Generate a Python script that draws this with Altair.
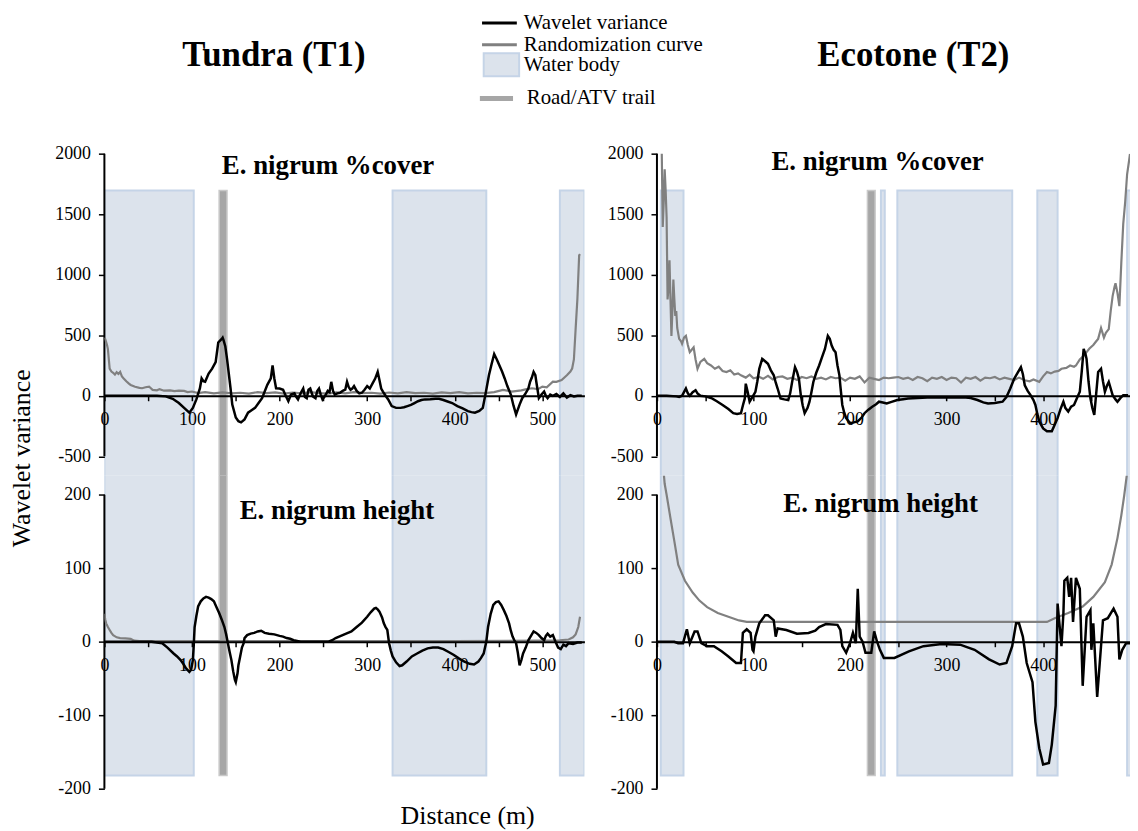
import altair as alt
import pandas as pd

FONT = "Liberation Serif"

# ---------------- data ----------------
# Tundra (T1) - E. nigrum %cover
T1C_WAV_X = [0, 20, 40, 60, 70, 78, 85, 91, 97, 101, 105, 109, 111, 113, 115, 119, 123, 127, 130, 132, 134, 135, 136, 138, 140, 144, 146, 150, 153, 156, 160, 164, 168, 172, 176, 180, 186, 190, 192, 194, 196, 200, 204, 207, 210, 213, 217, 219, 221, 224, 227, 229, 231, 233, 235, 238, 241, 243, 245, 247, 249, 252, 255, 257, 259, 261, 263, 266, 269, 272, 275, 277, 279, 281, 283, 285, 288, 291, 294, 297, 300, 303, 306, 309, 312, 314, 316, 318, 321, 324, 328, 333, 338, 342, 346, 350, 354, 358, 362, 366, 372, 378, 382, 387, 391, 397, 403, 409, 415, 419, 423, 428, 432, 435, 439, 442, 445, 448, 451, 454, 457, 460, 464, 467, 470, 474, 477, 480, 484, 486, 488, 490, 492, 493, 496, 499, 502, 504, 506, 509, 512, 516, 520, 524, 528, 532, 536, 540, 545]
T1C_WAV_Y = [0, 0, 0, 0, -5, -25, -60, -100, -140, -100, -30, 60, 143, 120, 116, 184, 224, 278, 440, 455, 470, 480, 460, 410, 305, 62, -73, -180, -210, -220, -195, -140, -120, -100, -60, -20, 90, 143, 250, 143, 62, 60, 50, 0, -45, 10, 20, -10, -30, 20, 60, -10, -20, 50, 60, -5, -20, 40, 60, 10, -30, 0, 40, 30, 115, 40, 10, 20, 25, 40, 50, 115, 70, 50, 60, 80, 40, 20, 25, 50, 80, 60, 100, 140, 197, 130, 60, 35, 0, -30, -85, -100, -100, -95, -85, -75, -60, -45, -35, -30, -28, -25, -25, -35, -45, -60, -85, -105, -127, -135, -140, -125, -100, 10, 170, 260, 345, 300, 250, 200, 143, 80, 10, -80, -154, -73, -20, 10, 60, 116, 150, 197, 170, 120, -20, 10, 35, 0, -20, 10, 0, 15, -10, 20, -15, 5, -5, 0, 0]
T1C_RND_X = [0, 1, 3, 4, 6, 8, 10, 12, 14, 16, 18, 20, 22, 25, 28, 30, 35, 40, 43, 47, 51, 55, 60, 63, 68, 75, 80, 85, 91, 95, 100, 107, 115, 125, 135, 145, 155, 165, 175, 185, 195, 205, 215, 225, 235, 245, 255, 265, 275, 285, 295, 305, 315, 325, 335, 345, 355, 365, 375, 385, 395, 405, 415, 425, 435, 445, 455, 465, 476, 482, 488, 495, 500, 505, 512, 516, 522, 528, 532, 534, 536, 538, 540, 542, 543]
T1C_RND_Y = [480, 468, 420, 386, 224, 200, 190, 175, 195, 180, 197, 160, 143, 120, 100, 89, 75, 65, 62, 70, 76, 49, 45, 55, 42, 45, 38, 42, 40, 30, 35, 22, 30, 20, 28, 20, 25, 18, 30, 22, 28, 18, 27, 20, 30, 22, 18, 28, 20, 30, 22, 25, 18, 27, 20, 30, 22, 25, 18, 28, 22, 30, 20, 25, 22, 30, 49, 35, 45, 55, 62, 55, 76, 70, 116, 115, 130, 170, 200, 225, 300, 555, 800, 1160, 1170]

# Tundra (T1) - E. nigrum height
T1H_WAV_X = [0, 20, 40, 54, 60, 66, 72, 79, 83, 87, 90, 93, 97, 99, 101, 102, 103, 105, 107, 110, 113, 116, 119, 122, 125, 128, 131, 134, 137, 139, 141, 143, 145, 147, 149, 150, 152, 153, 155, 157, 159, 160, 163, 167, 171, 175, 179, 183, 188, 194, 200, 204, 208, 212, 216, 220, 224, 240, 256, 260, 264, 270, 276, 282, 288, 294, 300, 304, 308, 310, 312, 314, 317, 319, 321, 323, 325, 327, 329, 333, 337, 340, 345, 351, 357, 363, 369, 375, 381, 387, 393, 399, 405, 411, 417, 422, 427, 430, 433, 436, 438, 441, 444, 447, 450, 453, 456, 459, 462, 464, 466, 468, 470, 472, 474, 476, 478, 481, 484, 487, 490, 493, 496, 499, 502, 504, 506, 509, 512, 515, 518, 521, 524, 527, 530, 535, 540, 545]
T1H_WAV_Y = [0, 0, 0, 0, -1, -2, -8, -16, -20, -25, -30, -36, -41, -38, -25, -5, 20, 35, 48, 55, 59, 61, 60, 58, 55, 47, 39, 30, 20, 10, -2, -14, -25, -40, -52, -55, -43, -32, -20, -8, -2, 5, 9, 11, 12, 14, 15, 12, 11, 10, 8, 7, 5, 4, 2, 1, 0, 0, 0, 2, 5, 8, 11, 14, 20, 26, 34, 40, 45, 46, 44, 41, 33, 25, 20, 16, -2, -12, -20, -28, -33, -32, -27, -20, -16, -12, -9, -8, -8, -10, -14, -18, -23, -27, -30, -31, -27, -22, -16, 0, 20, 38, 50, 54, 55, 50, 43, 35, 25, 15, 7, 2, -2, -15, -32, -25, -16, -8, 2, 8, 14, 12, 9, 5, 2, 8, 11, 7, 9, 0, -8, -10, -4, -6, -2, -3, -1, -1]
T1H_RND_X = [0, 1, 2, 4, 6, 8, 10, 14, 18, 24, 30, 34, 40, 60, 100, 200, 300, 400, 500, 520, 530, 535, 538, 541, 543]
T1H_RND_Y = [38, 30, 25, 20, 16, 12, 9, 6, 5, 4.5, 4, 1.5, 1, 1, 1, 1, 1, 1, 1.5, 2, 3, 6, 10, 20, 34]

# Ecotone (T2) - E. nigrum %cover
T2C_WAV_X = [0, 10, 20, 23, 26, 28, 30, 32, 34, 37, 40, 42, 45, 50, 57, 62, 68, 74, 79, 83, 87, 89, 91, 92, 94, 96, 99, 102, 104, 106, 109, 112, 115, 118, 121, 123, 125, 128, 132, 136, 138, 140, 143, 145, 147, 149, 151, 153, 156, 158, 160, 162, 165, 168, 171, 174, 177, 179, 181, 183, 185, 187, 189, 190, 192, 194, 196, 200, 204, 208, 212, 215, 219, 223, 227, 230, 234, 238, 243, 249, 255, 260, 270, 280, 290, 300, 310, 320, 325, 332, 338, 343, 350, 358, 362, 366, 370, 374, 377, 379, 381, 384, 387, 390, 392, 394, 396, 400, 404, 409, 412, 415, 418, 421, 423, 426, 429, 432, 435, 438, 440, 442, 444, 445, 447, 449, 451, 453, 455, 457, 460, 462, 464, 466, 468, 470, 472, 475, 477, 480, 483, 488]
T2C_WAV_Y = [0, 0, -5, -10, 0, 30, 60, 20, 0, 30, 46, 20, 0, -5, -22, -45, -76, -110, -144, -150, -144, -80, -22, 100, 30, -49, -10, 33, 120, 223, 305, 285, 264, 210, 169, 110, 60, -22, -30, -35, 20, 114, 237, 200, 142, 5, -80, -144, -100, -49, 30, 114, 190, 250, 320, 387, 495, 470, 414, 380, 360, 250, 169, 80, -76, -140, -185, -226, -220, -212, -180, -144, -115, -90, -70, -49, -55, -63, -50, -35, -28, -22, -18, -15, -15, -12, -14, -15, -18, -35, -55, -63, -60, -49, -10, 60, 140, 196, 237, 180, 87, 40, 5, -35, -76, -150, -212, -270, -294, -294, -240, -185, -110, -49, -100, -131, -90, -76, -20, 33, 200, 387, 340, 305, 120, -22, -100, -158, 20, 196, 223, 120, 33, 80, 114, 60, 5, -30, -49, -20, 5, 5]
T2C_RND_X = [0, 2, 4, 5, 6, 7, 8, 9, 10, 11, 12, 13, 14, 15, 16, 17, 18, 19, 20, 21, 23, 25, 26, 28, 30, 32, 34, 36, 38, 40, 42, 45, 49, 52, 56, 60, 64, 68, 72, 76, 80, 84, 87, 92, 96, 100, 106, 110, 115, 120, 125, 130, 135, 140, 145, 150, 155, 160, 165, 170, 175, 180, 185, 190, 195, 200, 205, 210, 215, 220, 225, 230, 235, 240, 245, 250, 255, 260, 265, 270, 275, 280, 285, 290, 295, 300, 305, 310, 315, 320, 325, 330, 335, 340, 345, 350, 355, 360, 365, 370, 375, 381, 386, 390, 396, 400, 404, 408, 412, 416, 419, 424, 428, 432, 434, 438, 442, 445, 448, 452, 455, 457, 460, 463, 465, 468, 470, 472, 474, 475, 477, 479, 481, 483, 485, 487, 489, 490]
T2C_RND_Y = [2100, 2100, 2050, 2000, 1395, 1600, 1870, 1700, 1475, 795, 900, 1120, 800, 495, 700, 960, 800, 660, 700, 560, 470, 450, 430, 480, 495, 420, 360, 380, 400, 300, 223, 280, 305, 270, 250, 223, 240, 205, 196, 210, 175, 185, 169, 150, 175, 145, 155, 140, 165, 135, 155, 160, 140, 150, 130, 155, 145, 160, 140, 150, 135, 155, 145, 150, 125, 150, 140, 160, 110, 150, 140, 130, 150, 145, 150, 155, 140, 150, 130, 155, 145, 120, 150, 140, 155, 130, 150, 145, 110, 150, 140, 155, 125, 150, 145, 155, 135, 150, 140, 130, 150, 128, 120, 135, 115, 160, 196, 185, 200, 205, 223, 230, 250, 240, 250, 300, 330, 360, 390, 420, 450, 470, 560, 480, 520, 550, 700, 823, 900, 930, 850, 740, 1100, 1420, 1600, 1830, 1940, 2000]

# Ecotone (T2) - E. nigrum height
T2H_WAV_X = [0, 10, 18, 22, 27, 31, 34, 39, 42, 46, 52, 59, 67, 74, 82, 87, 89, 93, 97, 99, 100, 102, 106, 112, 115, 121, 123, 125, 134, 145, 157, 164, 168, 175, 187, 190, 192, 196, 200, 203, 206, 208, 210, 213, 216, 222, 225, 228, 231, 235, 246, 261, 276, 295, 314, 329, 344, 355, 362, 368, 372, 375, 379, 383, 389, 392, 396, 400, 406, 409, 413, 415, 419, 421, 422, 425, 427, 429, 431, 434, 438, 441, 445, 449, 450, 452, 456, 462, 467, 473, 477, 479, 482, 486, 490]
T2H_WAV_Y = [0, 0, 0, -2, -2, 17, -2, 14, 14, -2, -6, -6, -13, -20, -29, -29, 12, 17, 12, -11, -13, 7, 25, 36, 36, 29, 7, 18, 16, 11, 12, 15, 20, 24, 23, 16, -6, -15, -2, 12, -2, 72, 7, 0, -15, -15, 14, 0, -11, -22, -22, -13, -6, -3, -4, -11, -24, -31, -29, -6, 25, 25, 7, -29, -55, -109, -145, -167, -165, -140, -87, 52, -6, 38, 83, 87, 61, 87, 27, 87, 72, -60, 34, 43, -11, 25, -75, 29, 32, 45, 34, -24, -11, -2, -2]
T2H_RND_X = [7, 8, 10, 14, 18, 22, 29, 37, 44, 52, 63, 74, 85, 93, 150, 250, 350, 404, 412, 426, 441, 452, 464, 471, 477, 481, 484, 487]
T2H_RND_Y = [230, 215, 200, 168, 137, 105, 83, 67, 56, 47, 39, 34, 29, 27, 27, 27, 27, 27, 32, 39, 48, 61, 81, 105, 141, 172, 199, 230]

# landscape features along the transects (m)
T1_WATER_START = [0, 329, 520]
T1_WATER_END = [102, 436, 548]
T1_ROAD_START = [131]
T1_ROAD_END = [140]
T2_WATER_START = [4, 232, 249, 394, 487]
T2_WATER_END = [27.5, 236, 368, 415, 495]
T2_ROAD_START = [218]
T2_ROAD_END = [226]

SERIES = ["Wavelet variance", "Randomization curve"]
SERIES_COLORS = ["#000000", "#808080"]
WATER_LABEL = "Water body"
ROAD_LABEL = "Road/ATV trail"

COVER_TICKS = [-500, 0, 500, 1000, 1500, 2000]
HEIGHT_TICKS = [-200, -100, 0, 100, 200]
COVER_DOMAIN = [-660, 2000]
HEIGHT_DOMAIN = [-200, 226]
COVER_BAND = [-800, 1695]
HEIGHT_BAND = [-182, 300]

# ---------------- legends ----------------
LEG_X = 387
line_legend = alt.Legend(title=None, orient="none", legendX=LEG_X, legendY=-142,
                         symbolType="M-3.5,0H3.5", symbolSize=100, symbolStrokeWidth=3,
                         labelFont=FONT, labelFontSize=21, labelColor="black", labelLimit=400,
                         labelOffset=14, rowPadding=0, padding=0)
water_legend = alt.Legend(title=None, orient="none", legendX=LEG_X, legendY=-102,
                          symbolType="M-1.55,-1H1.55V1H-1.55Z", symbolSize=529,
                          symbolStrokeColor="#c5d4e7", symbolStrokeWidth=2,
                          labelFont=FONT, labelFontSize=21, labelColor="black", labelLimit=400,
                          labelOffset=10, padding=0)
road_legend = alt.Legend(title=None, orient="none", legendX=LEG_X - 5, legendY=-68,
                         symbolType="M-1.45,-0.22H1.45V0.22H-1.45Z", symbolSize=529,
                         symbolFillColor="#a6a6a6", symbolStrokeColor="#c9c9c9",
                         symbolStrokeWidth=1.5, symbolOpacity=1,
                         labelFont=FONT, labelFontSize=21, labelColor="black", labelLimit=400,
                         labelOffset=18, padding=0)

TICK_LABEL = "'' + datum.value"


def panel(wx, wy, rx, ry, wstart, wend, rstart, rend, ydom, band, yticks,
          xmax, w, h, title, title_x, title_y, ytitle=None, xtitle=None):
    xscale = alt.Scale(domain=[0, xmax], nice=False, zero=False)
    yscale = alt.Scale(domain=ydom, nice=False, zero=False)
    y0_from_bottom = (0 - ydom[0]) / (ydom[1] - ydom[0]) * h

    xaxis_kw = dict(values=list(range(0, xmax + 1, 50)),
                    labelExpr="datum.value % 100 === 0 ? '' + datum.value : ''",
                    offset=-y0_from_bottom, domainColor="black", domainWidth=2,
                    tickColor="black", tickWidth=1.5, tickSize=5,
                    labelFont=FONT, labelFontSize=18, labelColor="black",
                    labelPadding=10, labelFlush=False, labelOverlap=False,
                    grid=False, zindex=1)
    if xtitle:
        xaxis_kw.update(title=xtitle, titleFont=FONT, titleFontSize=26,
                        titleFontWeight="normal", titleColor="black",
                        titleX=XTITLE_X, titleY=XTITLE_Y, titleBaseline="middle",
                        titleAlign="center")
    else:
        xaxis_kw.update(title=None)
    yaxis_kw = dict(values=yticks, labelExpr=TICK_LABEL, domain=False, grid=False,
                    tickColor="black", tickWidth=1.5, tickSize=6, labelFont=FONT,
                    labelFontSize=18, labelColor="black", labelPadding=8, zindex=1)
    if ytitle:
        yaxis_kw.update(title=ytitle, titleFont=FONT, titleFontSize=26,
                        titleFontWeight="normal", titleColor="black",
                        titleX=YTITLE_X, titleY=YTITLE_Y, titleAngle=270,
                        titleAlign="center", titleBaseline="middle")
    else:
        yaxis_kw.update(title=None)

    X = alt.X("x:Q", scale=xscale, axis=alt.Axis(**xaxis_kw))
    Y = alt.Y("y:Q", scale=yscale, axis=alt.Axis(**yaxis_kw))

    water_df = pd.DataFrame({"x": wstart, "x2": wend, "y": [band[0]] * len(wstart),
                             "y2": [band[1]] * len(wstart), "type": [WATER_LABEL] * len(wstart)})
    road_df = pd.DataFrame({"x": rstart, "x2": rend, "y": [band[0]] * len(rstart),
                            "y2": [band[1]] * len(rstart), "type": [ROAD_LABEL] * len(rstart)})
    axis_df = pd.DataFrame({"x": [0], "y": [yticks[0]], "y2": [yticks[-1]]})
    rnd_df = pd.DataFrame({"x": rx, "y": ry, "series": SERIES[1]})
    wav_df = pd.DataFrame({"x": wx, "y": wy, "series": SERIES[0]})
    title_df = pd.DataFrame({"t": [title]})

    color = alt.Color("series:N", scale=alt.Scale(domain=SERIES, range=SERIES_COLORS),
                      legend=line_legend)

    water = alt.Chart(water_df).mark_rect(stroke="#c5d4e7", strokeWidth=2, clip=True).encode(
        x=X, x2="x2:Q", y=Y, y2="y2:Q",
        fill=alt.Fill("type:N", scale=alt.Scale(domain=[WATER_LABEL], range=["#dce3ec"]),
                      legend=water_legend))
    road = alt.Chart(road_df).mark_rect(fill="#a6a6a6", stroke="#c9c9c9", strokeWidth=1.5,
                                        clip=True).encode(
        x=X, x2="x2:Q", y=Y, y2="y2:Q",
        opacity=alt.Opacity("type:O", scale=alt.Scale(domain=[ROAD_LABEL], range=[1]),
                            legend=road_legend))
    yline = alt.Chart(axis_df).mark_rule(color="black", strokeWidth=2).encode(
        x=X, y=Y, y2="y2:Q")
    rnd = alt.Chart(rnd_df).mark_line(strokeWidth=2.2, clip=True).encode(x=X, y=Y, color=color)
    wav = alt.Chart(wav_df).mark_line(strokeWidth=2.5, clip=True).encode(x=X, y=Y, color=color)
    label = alt.Chart(title_df).mark_text(font=FONT, fontSize=27, fontWeight="bold",
                                          color="black", align="center",
                                          baseline="middle").encode(
        text="t:N", x=alt.value(title_x), y=alt.value(title_y))

    return alt.layer(water, road, yline, rnd, wav, label).properties(width=w, height=h)


YTITLE_X, YTITLE_Y = -83, 306
XTITLE_X, XTITLE_Y = 365, 175

L_W, R_W = 483, 476
TOP_H, BOT_H = 324, 315

t1_top = panel(T1C_WAV_X, T1C_WAV_Y, T1C_RND_X, T1C_RND_Y, T1_WATER_START, T1_WATER_END,
               T1_ROAD_START, T1_ROAD_END, COVER_DOMAIN, COVER_BAND, COVER_TICKS,
               548, L_W, TOP_H, "E. nigrum %cover", 225, 12, ytitle="Wavelet variance")
t1_bot = panel(T1H_WAV_X, T1H_WAV_Y, T1H_RND_X, T1H_RND_Y, T1_WATER_START, T1_WATER_END,
               T1_ROAD_START, T1_ROAD_END, HEIGHT_DOMAIN, HEIGHT_BAND, HEIGHT_TICKS,
               548, L_W, BOT_H, "E. nigrum height", 234, 36, xtitle="Distance (m)")
t2_top = panel(T2C_WAV_X, T2C_WAV_Y, T2C_RND_X, T2C_RND_Y, T2_WATER_START, T2_WATER_END,
               T2_ROAD_START, T2_ROAD_END, COVER_DOMAIN, COVER_BAND, COVER_TICKS,
               490, R_W, TOP_H, "E. nigrum %cover", 222, 8)
t2_bot = panel(T2H_WAV_X, T2H_WAV_Y, T2H_RND_X, T2H_RND_Y, T2_WATER_START, T2_WATER_END,
               T2_ROAD_START, T2_ROAD_END, HEIGHT_DOMAIN, HEIGHT_BAND, HEIGHT_TICKS,
               490, R_W, BOT_H, "E. nigrum height", 225, 29)

col_title = dict(font=FONT, fontSize=35, fontWeight="bold", color="black", anchor="middle",
                 frame="group", offset=72)
left = alt.vconcat(t1_top, t1_bot, spacing=0, bounds="flush",
                   title=alt.TitleParams("Tundra (T1)", dx=170.5, **col_title))
right = alt.vconcat(t2_top, t2_bot, spacing=0, bounds="flush",
                    title=alt.TitleParams("Ecotone (T2)", dx=258, **col_title))

chart = alt.hconcat(left, right, spacing=23).properties(
    padding={"left": 1, "top": 2, "right": 0, "bottom": 2}
).configure_view(stroke=None)

chart.save("out.html", embed_options={"renderer": "svg", "actions": False})
